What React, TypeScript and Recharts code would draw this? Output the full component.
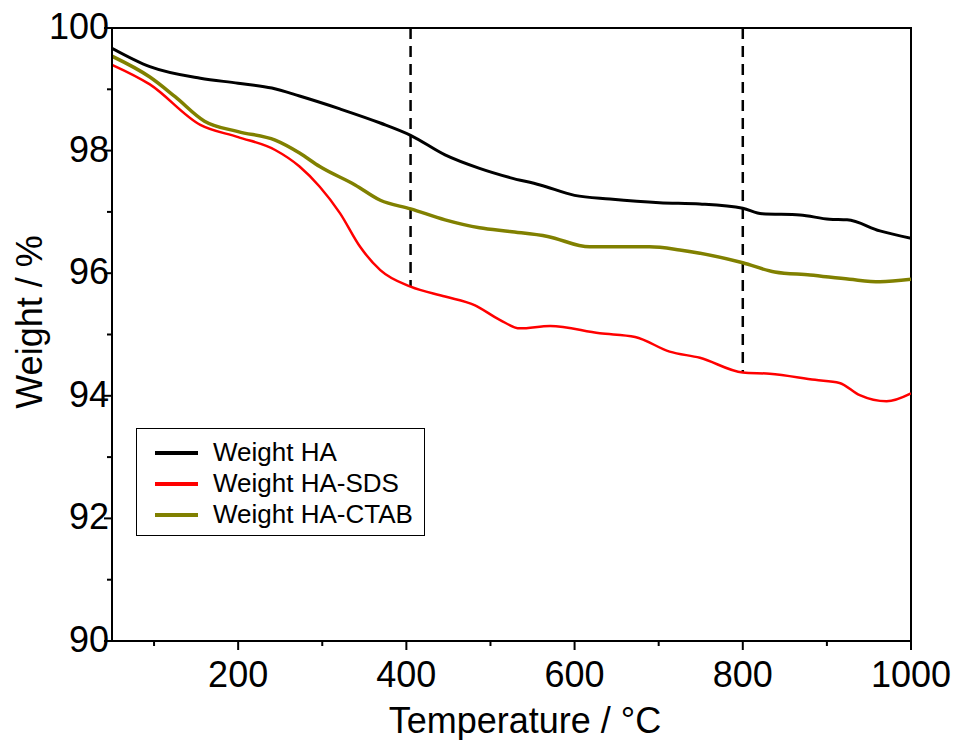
import React from 'react';
import {
  Legend,
  Line,
  LineChart,
  ReferenceArea,
  ReferenceLine,
  XAxis,
  YAxis,
} from 'recharts';

const haTemps = [50, 95, 155, 200, 240, 273, 321, 369, 405, 446, 487, 523, 559, 600, 642, 701, 749, 800, 823, 868, 903, 924, 963, 1000];
const haWeights = [99.67, 99.37, 99.18, 99.1, 99.02, 98.89, 98.68, 98.45, 98.25, 97.93, 97.71, 97.56, 97.44, 97.27, 97.21, 97.15, 97.13, 97.06, 96.97, 96.95, 96.88, 96.87, 96.69, 96.57];

const sdsTemps = [50, 95, 155, 200, 244, 273, 297, 321, 345, 369, 405, 446, 481, 511, 535, 571, 630, 672, 713, 749, 800, 832, 886, 915, 939, 971, 1000];
const sdsWeights = [99.4, 99.08, 98.42, 98.22, 98.01, 97.74, 97.41, 96.98, 96.43, 96.05, 95.78, 95.62, 95.48, 95.24, 95.1, 95.14, 95.02, 94.96, 94.72, 94.62, 94.38, 94.36, 94.26, 94.21, 94.01, 93.91, 94.04];

const ctabTemps = [50, 95, 125, 160, 200, 244, 273, 297, 339, 369, 405, 446, 487, 523, 568, 618, 689, 725, 800, 838, 880, 927, 963, 1000];
const ctabWeights = [99.54, 99.2, 98.88, 98.48, 98.31, 98.17, 97.96, 97.74, 97.44, 97.19, 97.05, 96.87, 96.74, 96.68, 96.6, 96.43, 96.43, 96.38, 96.17, 96.02, 95.97, 95.9, 95.86, 95.9];

const markerTemps = [405, 800];
const markerBottoms = [95.78, 94.38];

const xMajorTicks = [200, 400, 600, 800, 1000];
const xMinorTicks = [100, 300, 500, 700, 900];
const yMajorTicks = [90, 92, 94, 96, 98, 100];
const yMinorTicks = [91, 93, 95, 97, 99];

const FONT = '"Liberation Sans", Arial, Helvetica, sans-serif';

const zip = (ts: number[], ws: number[]) => ts.map((t, i) => ({ t, w: ws[i] }));

const series = [
  { name: 'Weight HA', color: '#000000', width: 3, data: zip(haTemps, haWeights) },
  { name: 'Weight HA-SDS', color: '#ff0000', width: 2.5, data: zip(sdsTemps, sdsWeights) },
  { name: 'Weight HA-CTAB', color: '#808000', width: 3.5, data: zip(ctabTemps, ctabWeights) },
];

const XTick = (props: any) => {
  const { x, y, payload } = props;
  const major = xMajorTicks.includes(payload.value);
  return (
    <g>
      <line x1={x} x2={x} y1={y} y2={y + (major ? 9 : 5)} stroke="#000" strokeWidth={2} />
      {major && (
        <text x={x} y={y + 46} textAnchor="middle" fontSize={36} fontFamily={FONT} fill="#000">
          {payload.value}
        </text>
      )}
    </g>
  );
};

const YTick = (props: any) => {
  const { x, y, payload } = props;
  const major = yMajorTicks.includes(payload.value);
  return (
    <g>
      <line x1={x} x2={x - (major ? 8 : 5)} y1={y} y2={y} stroke="#000" strokeWidth={2} />
      {major && (
        <text x={x - 3} y={y + 11} textAnchor="end" fontSize={36} fontFamily={FONT} fill="#000">
          {payload.value}
        </text>
      )}
    </g>
  );
};

// legend keeps the series order instead of the sorted payload
const LegendBox = () => (
  <div
    style={{
      boxSizing: 'border-box',
      width: 289,
      height: 108,
      border: '1.5px solid #000',
      background: '#fff',
      padding: '8px 0 0 18px',
      fontFamily: FONT,
      fontSize: 26,
      color: '#000',
    }}
  >
    {series.map((s) => (
      <div key={s.name} style={{ display: 'flex', alignItems: 'center', height: 31 }}>
        <span
          style={{
            display: 'inline-block',
            width: 43,
            height: 4,
            background: s.color,
            marginRight: 15,
          }}
        />
        <span>{s.name}</span>
      </div>
    ))}
  </div>
);

export default function App() {
  return (
    <div style={{ position: 'absolute', left: 0, top: 0, width: 955, height: 740, background: '#fff' }}>
      <LineChart width={955} height={740} margin={{ top: 28, right: 44, left: 12, bottom: 39 }}>
        <XAxis
          dataKey="t"
          type="number"
          domain={[50, 1000]}
          ticks={[...xMinorTicks, ...xMajorTicks].sort((a, b) => a - b)}
          tick={<XTick />}
          tickLine={false}
          tickSize={0}
          tickMargin={0}
          axisLine={{ stroke: '#000', strokeWidth: 2 }}
          height={60}
          allowDataOverflow
          label={{
            content: () => (
              <text x={525} y={733} textAnchor="middle" fontSize={36} fontFamily={FONT} fill="#000">
                Temperature / °C
              </text>
            ),
          }}
        />
        <YAxis
          type="number"
          domain={[90, 100]}
          ticks={[...yMinorTicks, ...yMajorTicks].sort((a, b) => a - b)}
          tick={<YTick />}
          tickLine={false}
          tickSize={0}
          tickMargin={0}
          axisLine={{ stroke: '#000', strokeWidth: 2 }}
          width={100}
          allowDataOverflow
          label={{
            content: () => (
              <text
                x={42}
                y={322}
                transform="rotate(-90 42 322)"
                textAnchor="middle"
                fontSize={36}
                fontFamily={FONT}
                fill="#000"
              >
                Weight / %
              </text>
            ),
          }}
        />
        <ReferenceArea x1={50} x2={1000} y1={90} y2={100} fill="none" stroke="#000" strokeWidth={2} />
        {markerTemps.map((t, i) => (
          <ReferenceLine
            key={t}
            segment={[
              { x: t, y: 100 },
              { x: t, y: markerBottoms[i] },
            ]}
            stroke="#000"
            strokeWidth={2.5}
            strokeDasharray="11 7"
          />
        ))}
        {series.map((s) => (
          <Line
            key={s.name}
            data={s.data}
            dataKey="w"
            name={s.name}
            type="monotone"
            stroke={s.color}
            strokeWidth={s.width}
            dot={false}
            activeDot={false}
            isAnimationActive={false}
          />
        ))}
        <Legend
          layout="vertical"
          align="center"
          verticalAlign="middle"
          content={<LegendBox />}
          wrapperStyle={{ position: 'absolute', left: 136, top: 428, width: 289, height: 108 }}
        />
      </LineChart>
    </div>
  );
}
